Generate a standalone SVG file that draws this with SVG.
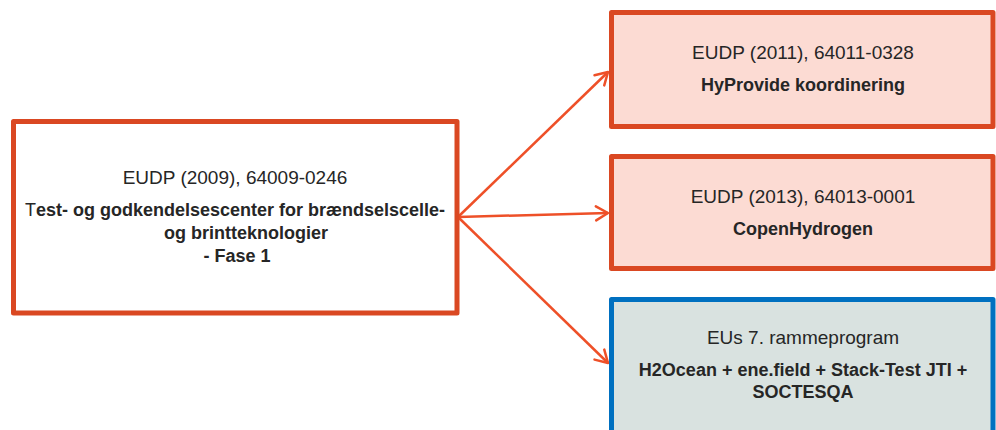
<svg xmlns="http://www.w3.org/2000/svg" width="996" height="430" viewBox="0 0 996 430">
<defs>
<style>
.box{stroke-width:5;stroke-linejoin:round}
.red{fill:#fff;stroke:#DA4822}
.pink{fill:#FCDBD3;stroke:#DA4822}
.blue{fill:#D9E2E0;stroke:#0070C0}
.t{font-family:"Liberation Sans",Arial,sans-serif;font-size:19px;fill:#262626;text-anchor:middle}
.b{font-weight:bold;font-size:18px}
.conn{stroke:#EE5028;stroke-width:2.5;fill:none}
</style>
<marker id="arr" viewBox="0 0 20 20" refX="16" refY="10" markerWidth="20" markerHeight="20" markerUnits="userSpaceOnUse" orient="auto">
<path d="M4,3 L16,10 L4,17" fill="none" stroke="#EE5028" stroke-width="2.5" stroke-linecap="round" stroke-linejoin="round"/>
</marker>
</defs>
<rect width="996" height="430" fill="#fff"/>
<g id="connectors">
<line class="conn" x1="458" y1="217" x2="608" y2="72" marker-end="url(#arr)"/>
<line class="conn" x1="458" y1="217" x2="608" y2="213" marker-end="url(#arr)"/>
<line class="conn" x1="458" y1="217" x2="608" y2="363" marker-end="url(#arr)"/>
</g>
<g id="node-main">
<rect class="box red" x="13.5" y="121.5" width="443.5" height="191.5"/>
<text class="t" x="235" y="184">EUDP (2009), 64009-0246</text>
<text class="t b" x="235" y="216"><tspan font-weight="normal">T</tspan>est- og godkendelsescenter for brændselscelle-</text>
<text class="t b" x="246" y="239">og brintteknologier</text>
<text class="t b" x="237" y="262">- Fase 1</text>
</g>
<g id="node-hyprovide">
<rect class="box pink" x="611.5" y="12.5" width="381.5" height="114"/>
<text class="t" x="803" y="59">EUDP (2011), 64011-0328</text>
<text class="t b" x="803" y="91">HyProvide koordinering</text>
</g>
<g id="node-copenhydrogen">
<rect class="box pink" x="611.5" y="156.5" width="381.5" height="112"/>
<text class="t" x="803" y="203">EUDP (2013), 64013-0001</text>
<text class="t b" x="803" y="235">CopenHydrogen</text>
</g>
<g id="node-eu7">
<rect class="box blue" x="611.5" y="299.5" width="381.5" height="200"/>
<text class="t" x="803" y="344">EUs 7. rammeprogram</text>
<text class="t b" x="803" y="376">H2Ocean + ene.field + Stack-Test JTI +</text>
<text class="t b" x="803" y="398">SOCTESQA</text>
</g>
</svg>
